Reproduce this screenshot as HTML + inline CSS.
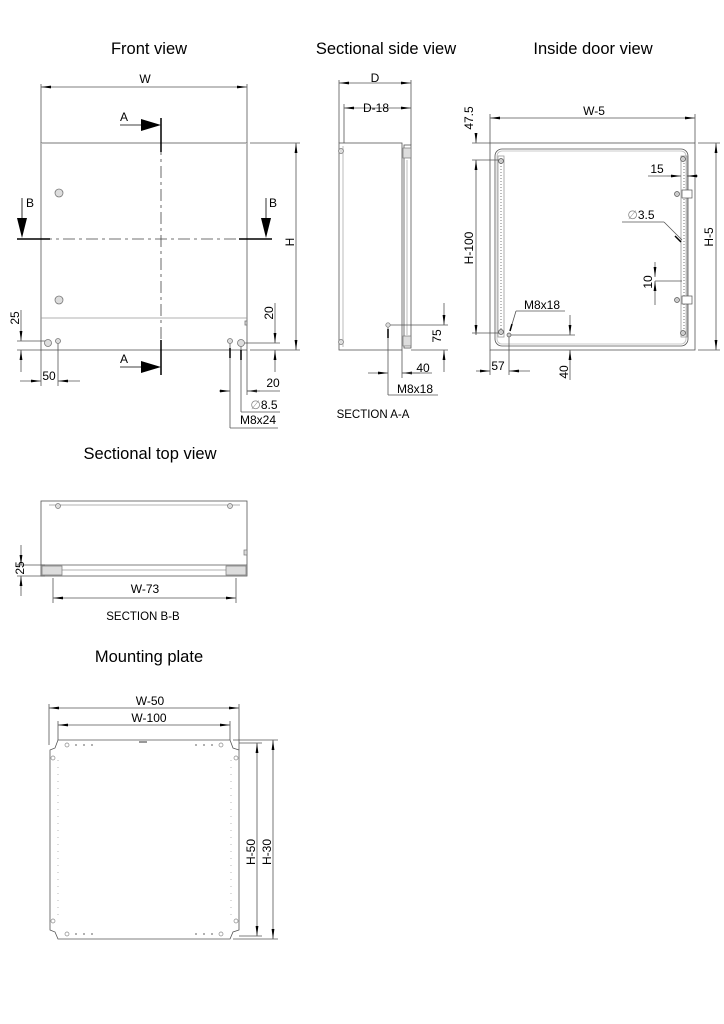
<!DOCTYPE html>
<html><head><meta charset="utf-8"><style>
html,body{margin:0;padding:0;background:#fff;}
svg{display:block;}
text{font-family:"Liberation Sans",sans-serif;fill:#000;}
.t{font-size:16.5px;}
.l{font-size:12px;}
</style></head><body>
<svg width="724" height="1024" viewBox="0 0 724 1024" xmlns="http://www.w3.org/2000/svg">
<defs>
<marker id="a" viewBox="0 0 10 4" refX="10" refY="2" markerWidth="10" markerHeight="4" orient="auto-start-reverse" markerUnits="userSpaceOnUse"><path d="M0,0.6L10,2L0,3.4z" fill="#000"/></marker>
</defs>
<text class="t" x="149" y="54" text-anchor="middle">Front view</text>
<text class="t" x="386" y="54" text-anchor="middle">Sectional side view</text>
<text class="t" x="593" y="54" text-anchor="middle">Inside door view</text>
<text class="t" x="150" y="459" text-anchor="middle">Sectional top view</text>
<text class="t" x="149" y="662" text-anchor="middle">Mounting plate</text>

<!-- FRONT VIEW -->
<g fill="none" stroke="#555" stroke-width="0.8">
<rect x="41" y="143" width="206" height="207"/>
<line x1="41" y1="318" x2="247" y2="318" stroke="#999"/>
<line x1="41" y1="143" x2="247" y2="143" stroke="#bbb" stroke-width="2"/>
<line x1="41" y1="143" x2="41" y2="84"/><line x1="247" y1="143" x2="247" y2="84"/>
<line x1="41" y1="87" x2="247" y2="87" marker-start="url(#a)" marker-end="url(#a)"/>
<line x1="250" y1="143" x2="300" y2="143"/><line x1="250" y1="350" x2="300" y2="350"/>
<line x1="296" y1="143" x2="296" y2="350" marker-start="url(#a)" marker-end="url(#a)"/>
<line x1="161" y1="143" x2="161" y2="350" stroke="#444" stroke-dasharray="12,4,3,4"/>
<line x1="17" y1="239" x2="272" y2="239" stroke="#444" stroke-dasharray="12,4,3,4"/>
<line x1="17" y1="341" x2="45" y2="341"/><line x1="17" y1="350" x2="41" y2="350"/>
<line x1="21" y1="310" x2="21" y2="341" marker-end="url(#a)"/><line x1="21" y1="372" x2="21" y2="350" marker-end="url(#a)"/>
<line x1="41" y1="350" x2="41" y2="386"/><line x1="58" y1="341" x2="58" y2="386"/>
<line x1="20" y1="381" x2="41" y2="381" marker-end="url(#a)"/><line x1="80" y1="381" x2="58" y2="381" marker-end="url(#a)"/>
<line x1="241" y1="343" x2="280" y2="343"/>
<line x1="275" y1="303" x2="275" y2="343" marker-end="url(#a)"/><line x1="275" y1="372" x2="275" y2="350" marker-end="url(#a)"/>
<line x1="230" y1="341" x2="230" y2="428"/><line x1="247" y1="350" x2="247" y2="395"/>
<line x1="219" y1="391" x2="230" y2="391" marker-end="url(#a)"/><line x1="260" y1="391" x2="247" y2="391" marker-end="url(#a)"/>
<line x1="247" y1="391" x2="280" y2="391"/>
<line x1="241" y1="343" x2="241" y2="412"/><line x1="241" y1="412" x2="280" y2="412"/>
<line x1="230" y1="428" x2="278" y2="428"/>
</g>
<g stroke="#000" stroke-width="1.5" fill="none">
<line x1="161" y1="118" x2="161" y2="152"/><line x1="161" y1="340" x2="161" y2="375"/>
<line x1="17" y1="239" x2="50" y2="239"/><line x1="239" y1="239" x2="272" y2="239"/>
</g>
<g stroke="#000" stroke-width="0.8">
<line x1="120" y1="125" x2="145" y2="125"/><line x1="120" y1="367" x2="145" y2="367"/>
<line x1="22" y1="198" x2="22" y2="222"/><line x1="266" y1="198" x2="266" y2="222"/>
<line x1="230" y1="348" x2="230" y2="358" stroke-width="1.5"/><line x1="241" y1="350" x2="241" y2="360" stroke-width="1.5"/>
</g>
<g fill="#000">
<path d="M141,119L161,125L141,131z"/><path d="M141,361L161,367L141,373z"/>
<path d="M17,218L22,238L27,218z"/><path d="M261,218L266,238L271,218z"/>
</g>
<g fill="#ddd" stroke="#777" stroke-width="0.8">
<circle cx="59" cy="193" r="4"/><circle cx="59" cy="300" r="4"/>
<circle cx="48" cy="343" r="3.5"/><circle cx="58" cy="341" r="2.5"/>
<circle cx="230" cy="341" r="2.5"/><circle cx="241" cy="343" r="3.5"/>
<rect x="245" y="321" width="2" height="4"/>
</g>
<text class="l" x="145" y="83" text-anchor="middle">W</text>
<text class="l" x="124" y="121" text-anchor="middle">A</text>
<text class="l" x="124" y="363" text-anchor="middle">A</text>
<text class="l" x="30" y="207" text-anchor="middle">B</text>
<text class="l" x="273" y="207" text-anchor="middle">B</text>
<text class="l" transform="translate(294,242) rotate(-90)" text-anchor="middle">H</text>
<text class="l" transform="translate(273,313) rotate(-90)" text-anchor="middle">20</text>
<text class="l" transform="translate(19,318) rotate(-90)" text-anchor="middle">25</text>
<text class="l" x="49" y="380" text-anchor="middle">50</text>
<text class="l" x="273" y="387" text-anchor="middle">20</text>
<text class="l" x="264" y="409" text-anchor="middle"><tspan fill="#888">∅</tspan>8.5</text>
<text class="l" x="258" y="424" text-anchor="middle">M8x24</text>

<!-- SIDE VIEW -->
<g fill="none" stroke="#555" stroke-width="0.8">
<rect x="339" y="143" width="63" height="207"/>
<line x1="343" y1="146" x2="343" y2="347" stroke="#aaa"/>
<rect x="404" y="145" width="7" height="203"/>
<line x1="407" y1="160" x2="407" y2="335" stroke="#aaa"/>
<line x1="339" y1="143" x2="339" y2="80"/><line x1="411" y1="145" x2="411" y2="80"/>
<line x1="344" y1="143" x2="344" y2="104"/>
<line x1="339" y1="83" x2="411" y2="83" marker-start="url(#a)" marker-end="url(#a)"/>
<line x1="344" y1="108" x2="411" y2="108" marker-start="url(#a)" marker-end="url(#a)"/>
<line x1="388" y1="325" x2="448" y2="325"/><line x1="411" y1="350" x2="448" y2="350"/>
<line x1="444" y1="303" x2="444" y2="325" marker-end="url(#a)"/><line x1="444" y1="372" x2="444" y2="350" marker-end="url(#a)"/>
<line x1="388" y1="325" x2="388" y2="395"/><line x1="402" y1="350" x2="402" y2="378"/>
<line x1="368" y1="373" x2="388" y2="373" marker-end="url(#a)"/><line x1="420" y1="373" x2="402" y2="373" marker-end="url(#a)"/>
<line x1="402" y1="373" x2="432" y2="373"/>
<line x1="388" y1="395" x2="438" y2="395"/>
</g>
<g fill="#ddd" stroke="#777" stroke-width="0.7">
<circle cx="341" cy="151" r="2.5"/><circle cx="341" cy="342" r="2.5"/>
<circle cx="388" cy="325" r="2.2"/>
<rect x="403" y="148" width="8" height="10"/><rect x="403" y="336" width="8" height="10"/>
</g>
<line x1="388" y1="329" x2="388" y2="338" stroke="#000" stroke-width="1.5"/>
<text class="l" x="375" y="82" text-anchor="middle">D</text>
<text class="l" x="376" y="112" text-anchor="middle">D-18</text>
<text class="l" transform="translate(441,336) rotate(-90)" text-anchor="middle">75</text>
<text class="l" x="423" y="372" text-anchor="middle">40</text>
<text class="l" x="415" y="393" text-anchor="middle">M8x18</text>
<text class="l" style="font-size:11.5px" x="373" y="418" text-anchor="middle">SECTION A-A</text>

<!-- INSIDE DOOR VIEW -->
<g fill="none" stroke="#555" stroke-width="0.8">
<rect x="490" y="143" width="205" height="207"/>
<rect x="495" y="149" width="193" height="197" rx="7"/>
<rect x="497" y="151" width="189" height="193" rx="5" stroke="#bbb"/>
<rect x="498" y="156" width="6" height="181" stroke="#999"/>
<rect x="681" y="156" width="6" height="181" stroke="#999"/>
<line x1="490" y1="143" x2="490" y2="114"/><line x1="695" y1="143" x2="695" y2="114"/>
<line x1="490" y1="118" x2="695" y2="118" marker-start="url(#a)" marker-end="url(#a)"/>
<line x1="472" y1="143" x2="490" y2="143"/><line x1="472" y1="160" x2="500" y2="160"/>
<line x1="476" y1="133" x2="476" y2="143" marker-end="url(#a)"/>
<line x1="476" y1="160" x2="476" y2="335" marker-start="url(#a)" marker-end="url(#a)"/>
<line x1="472" y1="333" x2="500" y2="333"/>
<line x1="698" y1="143" x2="720" y2="143"/><line x1="698" y1="350" x2="720" y2="350"/>
<line x1="716" y1="143" x2="716" y2="350" marker-start="url(#a)" marker-end="url(#a)"/>
<line x1="648" y1="176" x2="667" y2="176"/>
<line x1="667" y1="176" x2="681" y2="176" marker-end="url(#a)"/><line x1="698" y1="176" x2="687" y2="176" marker-end="url(#a)"/>
<line x1="622" y1="222" x2="664" y2="222"/><line x1="664" y1="222" x2="682" y2="240"/>
<line x1="655" y1="281" x2="682" y2="281"/>
<line x1="655" y1="262" x2="655" y2="277" marker-end="url(#a)"/><line x1="655" y1="305" x2="655" y2="281" marker-end="url(#a)"/>
<line x1="516" y1="311" x2="565" y2="311"/><line x1="516" y1="311" x2="510" y2="331"/>
<line x1="510" y1="335" x2="575" y2="335"/>
<line x1="570" y1="315" x2="570" y2="335" marker-end="url(#a)"/><line x1="570" y1="380" x2="570" y2="350" marker-end="url(#a)"/>
<line x1="490" y1="350" x2="490" y2="375"/><line x1="509" y1="335" x2="509" y2="375"/>
<line x1="476" y1="371" x2="490" y2="371" marker-end="url(#a)"/><line x1="530" y1="371" x2="509" y2="371" marker-end="url(#a)"/>
</g>
<g stroke="#000" stroke-width="1.5"><line x1="675" y1="236" x2="681" y2="242"/><line x1="512" y1="324" x2="510" y2="331"/></g>
<g stroke="#bbb" stroke-width="2" stroke-dasharray="1,2">
<line x1="501" y1="160" x2="501" y2="332"/><line x1="684" y1="160" x2="684" y2="332"/>
</g>
<g fill="#ccc" stroke="#555" stroke-width="0.7">
<circle cx="501" cy="161" r="2.5"/><circle cx="501" cy="332" r="2.5"/>
<circle cx="683" cy="159" r="2.5"/><circle cx="683" cy="333" r="2.5"/>
<circle cx="677" cy="194" r="2.5"/><circle cx="677" cy="300" r="2.5"/>
<circle cx="509" cy="335" r="2"/>
<rect x="682" y="190" width="10" height="8" fill="#fff"/><rect x="682" y="296" width="10" height="8" fill="#fff"/>
</g>
<text class="l" x="594" y="115" text-anchor="middle">W-5</text>
<text class="l" transform="translate(473,118) rotate(-90)" text-anchor="middle">47.5</text>
<text class="l" transform="translate(473,248) rotate(-90)" text-anchor="middle">H-100</text>
<text class="l" transform="translate(713,237) rotate(-90)" text-anchor="middle">H-5</text>
<text class="l" x="657" y="173" text-anchor="middle">15</text>
<text class="l" x="641" y="219" text-anchor="middle"><tspan fill="#888">∅</tspan>3.5</text>
<text class="l" transform="translate(652,282) rotate(-90)" text-anchor="middle">10</text>
<text class="l" x="542" y="309" text-anchor="middle">M8x18</text>
<text class="l" x="498" y="370" text-anchor="middle">57</text>
<text class="l" transform="translate(568,372) rotate(-90)" text-anchor="middle">40</text>

<!-- SECTIONAL TOP VIEW -->
<g fill="none" stroke="#555" stroke-width="0.8">
<rect x="41" y="501" width="206" height="75"/>
<line x1="49" y1="505" x2="240" y2="505" stroke="#999"/>
<line x1="41" y1="565" x2="247" y2="565"/>
<line x1="50" y1="570" x2="247" y2="570" stroke="#999"/>
<line x1="17" y1="565" x2="45" y2="565"/><line x1="17" y1="576" x2="45" y2="576"/>
<line x1="21" y1="545" x2="21" y2="565" marker-end="url(#a)"/><line x1="21" y1="596" x2="21" y2="576" marker-end="url(#a)"/>
<line x1="53" y1="578" x2="53" y2="603"/><line x1="236" y1="578" x2="236" y2="603"/>
<line x1="53" y1="598" x2="236" y2="598" marker-start="url(#a)" marker-end="url(#a)"/>
</g>
<g fill="#ddd" stroke="#777" stroke-width="0.7">
<circle cx="58" cy="506" r="2.5"/><circle cx="230" cy="506" r="2.5"/>
<rect x="42" y="566" width="20" height="9"/><rect x="226" y="566" width="20" height="9"/>
<rect x="244" y="550" width="3" height="5"/>
</g>
<text class="l" transform="translate(24,568) rotate(-90)" text-anchor="middle">25</text>
<text class="l" x="145" y="593" text-anchor="middle">W-73</text>
<text class="l" style="font-size:11.5px" x="143" y="620" text-anchor="middle">SECTION B-B</text>

<!-- MOUNTING PLATE -->
<g fill="none" stroke="#555" stroke-width="0.8">
<path d="M58,740 L230,740 L233,748 L239,750 L239,930 L233,932 L230,939 L58,939 L55,932 L50,930 L50,750 L55,748 Z"/>
<line x1="49" y1="745" x2="49" y2="704"/><line x1="239" y1="750" x2="239" y2="704"/>
<line x1="49" y1="708" x2="239" y2="708" marker-start="url(#a)" marker-end="url(#a)"/>
<line x1="58" y1="740" x2="58" y2="721"/><line x1="230" y1="740" x2="230" y2="721"/>
<line x1="58" y1="725" x2="230" y2="725" marker-start="url(#a)" marker-end="url(#a)"/>
<line x1="233" y1="740" x2="278" y2="740"/><line x1="239" y1="743" x2="262" y2="743"/>
<line x1="233" y1="939" x2="278" y2="939"/><line x1="239" y1="936" x2="262" y2="936"/>
<line x1="257" y1="743" x2="257" y2="936" marker-start="url(#a)" marker-end="url(#a)"/>
<line x1="273" y1="740" x2="273" y2="939" marker-start="url(#a)" marker-end="url(#a)"/>
<line x1="58" y1="760" x2="58" y2="920" stroke="#aaa" stroke-dasharray="1,6"/>
<line x1="231" y1="760" x2="231" y2="920" stroke="#aaa" stroke-dasharray="1,6"/>
</g>
<g fill="none" stroke="#888" stroke-width="0.7">
<circle cx="67" cy="745" r="2"/><circle cx="221" cy="745" r="2"/>
<circle cx="67" cy="934" r="2"/><circle cx="221" cy="934" r="2"/>
<circle cx="53" cy="758" r="2"/><circle cx="236" cy="758" r="2"/>
<circle cx="53" cy="921" r="2"/><circle cx="236" cy="921" r="2"/>
</g>
<g fill="#999">
<circle cx="76" cy="745" r="1"/><circle cx="84" cy="745" r="1"/><circle cx="92" cy="745" r="1"/>
<circle cx="196" cy="745" r="1"/><circle cx="204" cy="745" r="1"/><circle cx="212" cy="745" r="1"/>
<circle cx="76" cy="934" r="1"/><circle cx="84" cy="934" r="1"/><circle cx="92" cy="934" r="1"/>
<circle cx="196" cy="934" r="1"/><circle cx="204" cy="934" r="1"/><circle cx="212" cy="934" r="1"/>
<rect x="139" y="741" width="8" height="2"/>
</g>
<text class="l" x="150" y="705" text-anchor="middle">W-50</text>
<text class="l" x="149" y="722" text-anchor="middle">W-100</text>
<text class="l" transform="translate(255,852) rotate(-90)" text-anchor="middle">H-50</text>
<text class="l" transform="translate(271,852) rotate(-90)" text-anchor="middle">H-30</text>
</svg>
</body></html>
